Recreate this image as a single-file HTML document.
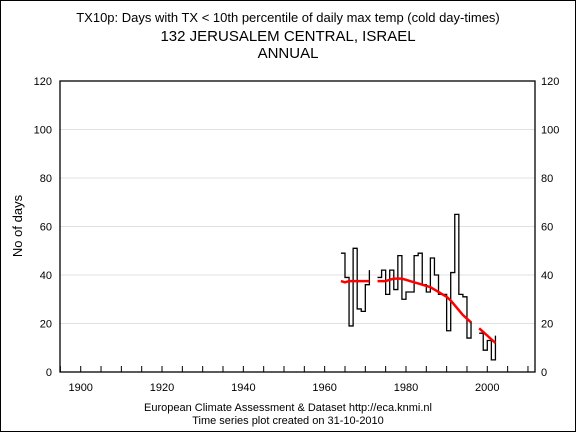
<!DOCTYPE html>
<html><head><meta charset="utf-8"><style>
html,body{margin:0;padding:0;background:#fff}
svg{display:block;font-family:"Liberation Sans",Arial,sans-serif}
</style></head><body>
<svg id="chart" width="576" height="432" viewBox="0 0 576 432">
<rect x="0.5" y="0.5" width="575" height="431" fill="#fff" stroke="#000"/>
<text x="288" y="22" font-size="13" text-anchor="middle">TX10p: Days with TX &lt; 10th percentile of daily max temp (cold day-times)</text>
<text x="288" y="41" font-size="15" text-anchor="middle">132 JERUSALEM CENTRAL, ISRAEL</text>
<text x="288" y="58" font-size="15" text-anchor="middle">ANNUAL</text>
<text transform="translate(22,226) rotate(-90)" font-size="13" text-anchor="middle">No of days</text>
<text x="288" y="411" font-size="11" text-anchor="middle">European Climate Assessment &amp; Dataset  http://eca.knmi.nl</text>
<text x="288" y="424" font-size="11" text-anchor="middle">Time series plot created on 31-10-2010</text>
<g id="grid"></g><g id="axes"></g><g id="series"></g>
</svg>
<script>
const yTicks=[0,20,40,60,80,100,120];
const xLabels=[1900,1920,1940,1960,1980,2000];
const run1Years=[1964,1965,1966,1967,1968,1969,1970,1971];
const run1Values=[49,39,19,51,26,25,36,42];
const run1Trend=[37.5,37,37.5,37.5,37.5,37.5,37.5,37.5];
const run2Years=[1973,1974,1975,1976,1977,1978,1979,1980,1981,1982,1983,1984,1985,1986,1987,1988,1989,1990,1991,1992,1993,1994,1995,1996];
const run2Values=[39,42,32,42,34,48,30,33,33,48,49,36,33,47,40,32,32,17,41,65,32,31,14,21];
const run2Trend=[37.5,37.5,37.5,38,38.5,38.5,38.5,38,37.5,37,36.5,36,35.5,35,34,33,32,31,29.5,27.5,25.5,23.5,22,20.5];
const run3Years=[1998,1999,2000,2001,2002];
const run3Values=[16,9,13,5,15];
const run3Trend=[18,16.5,15,13.5,12];

const L=60,R=535,T=81,B=372;
const X=yr=>80.7+(yr-1900)*4.066;
const Y=v=>B-(v/120)*(B-T);
const NS='http://www.w3.org/2000/svg';
function mk(tag,attrs,parent){const e=document.createElementNS(NS,tag);for(const k in attrs)e.setAttribute(k,attrs[k]);parent.appendChild(e);return e;}
const grid=document.getElementById('grid'),axes=document.getElementById('axes'),series=document.getElementById('series');
yTicks.forEach(v=>{
  if(v>0&&v<120){const g=mk('line',{x1:L,x2:R,y1:Y(v),y2:Y(v),stroke:'#e0e0e0','stroke-width':1},grid);
  
  }
  const t1=mk('text',{x:L-8,y:Y(v)+4,'font-size':11,'text-anchor':'end'},axes);t1.textContent=v;
  
  
  const t2=mk('text',{x:R+6,y:Y(v)+4,'font-size':11,'text-anchor':'start'},axes);t2.textContent=v;
  
  
});
const frame=mk('rect',{x:L,y:T,width:R-L,height:B-T,fill:'none',stroke:'#000','stroke-width':1.3},axes);


for(let yr=1895;yr<=2010;yr+=5){
  const tk=mk('line',{x1:X(yr),x2:X(yr),y1:B,y2:B-6,stroke:'#000'},axes);
  
  
}
xLabels.forEach(yr=>{const t=mk('text',{x:X(yr),y:B+19,'font-size':11,'text-anchor':'middle'},axes);t.textContent=yr;
  
  });
function stepRun(years,vals,name){
  let d='M'+X(years[0])+','+Y(vals[0]);
  for(let i=0;i<years.length;i++){
    if(i>0)d+=' L'+X(years[i])+','+Y(vals[i]);
    if(i<years.length-1)d+=' L'+X(years[i+1])+','+Y(vals[i]);
  }
  const p=mk('path',{d:d,fill:'none',stroke:'#000','stroke-width':1.3},series);
  
  
}
function trendRun(years,vals,name){
  const pts=years.map((y,i)=>X(y)+','+Y(vals[i])).join(' ');
  const p=mk('polyline',{points:pts,fill:'none',stroke:'#f00','stroke-width':2.5},series);
  
  
}
stepRun(run1Years,run1Values,'series-steps-1964-1971');
stepRun(run2Years,run2Values,'series-steps-1973-1996');
stepRun(run3Years,run3Values,'series-steps-1998-2002');
trendRun(run1Years,run1Trend,'trend-line-1964-1971');
trendRun(run2Years,run2Trend,'trend-line-1973-1996');
trendRun(run3Years,run3Trend,'trend-line-1998-2002');
</script>
</body></html>
